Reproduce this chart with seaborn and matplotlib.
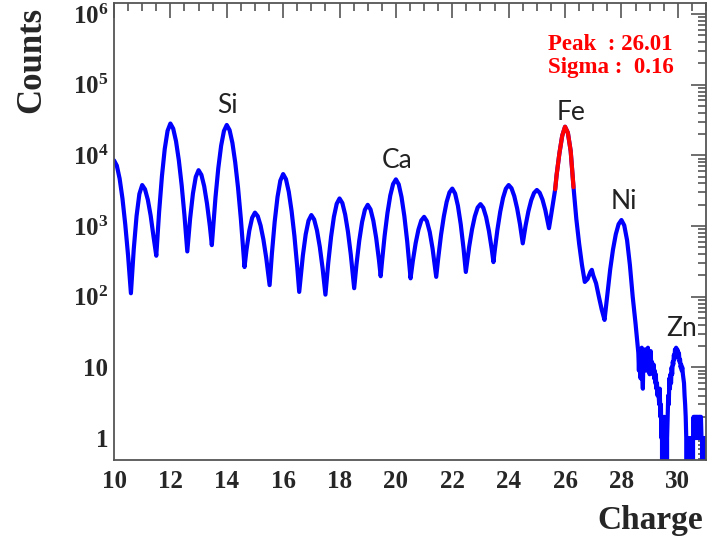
import numpy as np
import pandas as pd
import matplotlib
matplotlib.use("Agg")
import matplotlib.pyplot as plt
import matplotlib.ticker as mticker
import seaborn as sns

# ---------------- data ----------------
charge = [
    10.0, 10.1, 10.2, 10.3, 10.4, 10.5, 10.6, 10.7, 10.8, 10.9,
    11.0, 11.1, 11.2, 11.3, 11.4, 11.5, 11.6, 11.7, 11.8, 11.9,
    12.0, 12.1, 12.2, 12.3, 12.4, 12.5, 12.6, 12.7, 12.8, 12.9,
    13.0, 13.1, 13.2, 13.3, 13.4, 13.47, 13.6, 13.7, 13.8, 13.9,
    14.0, 14.1, 14.2, 14.3, 14.4, 14.5, 14.63, 14.7, 14.8, 14.9,
    15.0, 15.1, 15.2, 15.3, 15.4, 15.52, 15.6, 15.7, 15.8, 15.9,
    16.0, 16.1, 16.2, 16.3, 16.4, 16.5, 16.57, 16.7, 16.8, 16.9,
    17.0, 17.1, 17.2, 17.3, 17.4, 17.5, 17.6, 17.7, 17.8, 17.9,
    18.0, 18.1, 18.2, 18.3, 18.4, 18.52, 18.6, 18.7, 18.8, 18.9,
    19.0, 19.1, 19.2, 19.3, 19.4, 19.46, 19.5, 19.6, 19.7, 19.8, 19.9,
    20.0, 20.1, 20.2, 20.3, 20.4, 20.52, 20.6, 20.7, 20.8, 20.9,
    21.0, 21.1, 21.2, 21.3, 21.43, 21.5, 21.6, 21.7, 21.8, 21.9,
    22.0, 22.1, 22.2, 22.3, 22.4, 22.48, 22.6, 22.7, 22.8, 22.9,
    23.0, 23.1, 23.2, 23.3, 23.4, 23.46, 23.5, 23.6, 23.7, 23.8, 23.9,
    24.0, 24.1, 24.2, 24.3, 24.4, 24.5, 24.6, 24.7, 24.8, 24.9,
    25.0, 25.1, 25.2, 25.3, 25.43, 25.5, 25.6, 25.65, 25.7, 25.8, 25.9,
    26.0, 26.1, 26.2, 26.3, 26.4, 26.5, 26.6, 26.7, 26.8, 26.9, 26.95,
    27.0, 27.1, 27.2, 27.3, 27.4, 27.5, 27.6, 27.7, 27.8, 27.9,
    28.0, 28.1, 28.2, 28.3, 28.4, 28.5,
    28.60, 28.62, 28.64, 28.66, 28.68, 28.70, 28.72, 28.74, 28.76, 28.78,
    28.80, 28.82, 28.84, 28.86, 28.88, 28.90, 28.92, 28.94, 28.96, 28.98,
    29.00, 29.02, 29.04, 29.06, 29.08, 29.10, 29.12, 29.14, 29.16, 29.18,
    29.20, 29.22, 29.24, 29.26, 29.28, 29.30,
    29.32, 29.34, 29.36, 29.38, 29.40, 29.42, 29.44, 29.46, 29.48, 29.50,
    29.52, 29.54, 29.56, 29.58, 29.60, 29.62,
    29.64, 29.66, 29.68, 29.70, 29.72, 29.74, 29.76, 29.78, 29.80, 29.82,
    29.84, 29.86, 29.88, 29.90, 29.92, 29.94, 29.96, 29.98, 30.00,
    30.02, 30.04, 30.06, 30.08, 30.10, 30.12, 30.14, 30.16, 30.18, 30.20,
    30.22, 30.24, 30.26, 30.28, 30.30,
    30.32, 30.34, 30.36, 30.38, 30.40, 30.42, 30.44, 30.46, 30.48, 30.50,
    30.52, 30.54,
    30.56, 30.58, 30.60, 30.62, 30.64, 30.66, 30.68, 30.70, 30.72, 30.74,
    30.76, 30.78, 30.80, 30.82, 30.84, 30.86, 30.88, 30.90, 30.92, 30.94,
    30.96, 30.98,
]
counts = [
    8500, 7160, 4677, 2455, 1047, 380, 112, 466, 1384, 2844,
    3800, 3311, 2355, 1409, 718, 380, 1581, 5058, 12330, 22230,
    28200, 23880, 15850, 8511, 3784, 1403, 437, 1274, 2884, 4955,
    6166, 5297, 3648, 2065, 1000, 537, 2541, 6607, 13680, 22130,
    26900, 22750, 15030, 7943, 3483, 1268, 263, 460, 863, 1309,
    1549, 1377, 1016, 644, 354, 146, 403, 1151, 2570, 4385,
    5433, 4603, 3048, 1626, 723, 263, 117, 384, 762, 1191,
    1429, 1239, 869, 508, 252, 107, 302, 703, 1346, 2065,
    2455, 2118, 1455, 828, 394, 132, 282, 622, 1138, 1698,
    1995, 1718, 1186, 679, 327, 195, 293, 729, 1524, 2698, 3926,
    4571, 3890, 2564, 1377, 610, 182, 319, 571, 891, 1199,
    1349, 1169, 824, 482, 191, 348, 746, 1368, 2193, 2992,
    3388, 2884, 1932, 1057, 479, 224, 513, 897, 1374, 1828,
    2042, 1811, 1340, 851, 470, 309, 428, 883, 1589, 2500, 3373,
    3802, 3428, 2642, 1782, 1067, 569, 1012, 1618, 2317, 2938,
    3236, 2958, 2366, 1683, 933, 1380, 2512, 3311, 5248, 10700, 19000,
    25400, 20900, 11500, 3548, 1259, 562, 282, 162, 178, 224, 240,
    200, 155, 100, 66, 47, 108, 241, 463, 764, 1064,
    1216, 1023, 631, 282, 100, 42,
    16, 9, 18, 12, 7, 15, 19, 8, 5, 14,
    17, 10, 18, 13, 9, 17, 12, 19, 11, 16,
    8, 14, 17, 9, 12, 10, 8, 11, 7, 9,
    6, 8, 5, 6, 4, 5,
    4, 3, 5, 2, 3, 1, 2, 0, 1, 0,
    2, 0, 1, 0, 0, 1,
    2, 4, 3, 7, 5, 8, 6, 10, 8, 12,
    11, 15, 13, 18, 16, 19, 15, 18, 17,
    14, 16, 12, 13, 10, 11, 9, 10, 8, 7,
    6, 4, 3, 2, 1,
    0, 1, 0, 0, 1, 0, 0, 0, 1, 0,
    0, 1,
    2, 1, 2, 2, 1, 2, 2, 1, 2, 1,
    2, 2, 1, 2, 1, 1, 0, 1, 1, 0,
    1, 0,
]
fit_range = (25.65, 26.3)
fit_peak = 26.01
fit_sigma = 0.16

x_ticks = [10, 12, 14, 16, 18, 20, 22, 24, 26, 28, 30]
y_ticks = [1, 10, 1e2, 1e3, 1e4, 1e5, 1e6]
y_tick_labels = ["1", "10", r"$\mathbf{10^{2}}$", r"$\mathbf{10^{3}}$",
                 r"$\mathbf{10^{4}}$", r"$\mathbf{10^{5}}$", r"$\mathbf{10^{6}}$"]

element_labels = ["Si", "Ca", "Fe", "Ni", "Zn"]
element_x = [14.04, 20.04, 26.21, 28.08, 30.14]
element_y = [5.0e4, 8.5e3, 4.0e4, 2.2e3, 35]

# ---------------- style ----------------
sns.set_style("white")
plt.rcParams["font.family"] = ["Liberation Serif", "DejaVu Serif"]
plt.rcParams["mathtext.fontset"] = "custom"
plt.rcParams["mathtext.rm"] = "Liberation Serif:bold"
plt.rcParams["mathtext.bf"] = "Liberation Serif:bold"
plt.rcParams["mathtext.it"] = "Liberation Serif:bold"

df = pd.DataFrame({"charge": charge, "counts": counts})
fit_df = df[(df.charge >= fit_range[0]) & (df.charge <= fit_range[1])]

fig = plt.figure(figsize=(7.13, 5.43), dpi=100)
ax = fig.add_axes([114 / 713, 83 / 543, 592 / 713, 457 / 543])

sns.lineplot(data=df, x="charge", y="counts", ax=ax, color="#0000ff",
             lw=3.0, estimator=None, sort=False, legend=False)
sns.lineplot(data=fit_df, x="charge", y="counts", ax=ax, color="#ff0000",
             lw=3.0, estimator=None, sort=False, legend=False)
ax.set_yscale("log", nonpositive="clip")
ax.set_xlim(10, 31)
ax.set_ylim(0.49, 1.43e6)

# frame and ticks (ROOT-like, inward on all sides)
frame_col = "#555555"
for s in ax.spines.values():
    s.set_color(frame_col)
    s.set_linewidth(1.3)
ax.set_xticks(x_ticks)
ax.xaxis.set_minor_locator(mticker.MultipleLocator(0.5))
ax.set_yticks(y_ticks)
ax.set_yticklabels(y_tick_labels)
ax.yaxis.set_minor_locator(mticker.LogLocator(base=10, subs=np.arange(2, 10), numticks=20))
ax.yaxis.set_minor_formatter(mticker.NullFormatter())
ax.tick_params(which="both", direction="in", top=True, right=True,
               color=frame_col, width=1.2)
ax.tick_params(which="major", length=11)
ax.tick_params(which="minor", length=6)
ax.tick_params(axis="x", which="major", labelsize=18, pad=7)
ax.tick_params(axis="y", which="major", labelsize=18, pad=4)
for lab in ax.get_xticklabels() + ax.get_yticklabels():
    lab.set_fontweight("bold")
ax.set_xlabel("")
ax.set_ylabel("")

# axis titles
fig.text(650 / 713, 1 - 521 / 543, "Charge", ha="center", va="center",
         fontsize=24, fontweight="bold")
fig.text(32 / 713, 1 - 60 / 543, "Counts", ha="center", va="center",
         rotation=90, fontsize=25, fontweight="bold")

# fit results
ax.text(0.733, 0.910, f"Peak  : {fit_peak:.2f}", transform=ax.transAxes,
        color="#ff0000", fontsize=16.5, fontweight="bold", va="center", ha="left")
ax.text(0.733, 0.858, f"Sigma :  {fit_sigma:.2f}", transform=ax.transAxes,
        color="#ff0000", fontsize=16.5, fontweight="bold", va="center", ha="left")

# element labels
for lab, xx, yy in zip(element_labels, element_x, element_y):
    ax.text(xx, yy, lab, ha="center", va="center", fontsize=19,
            family=["Lato", "DejaVu Sans"], color="#222222")

fig.savefig("out.png", dpi=100)
